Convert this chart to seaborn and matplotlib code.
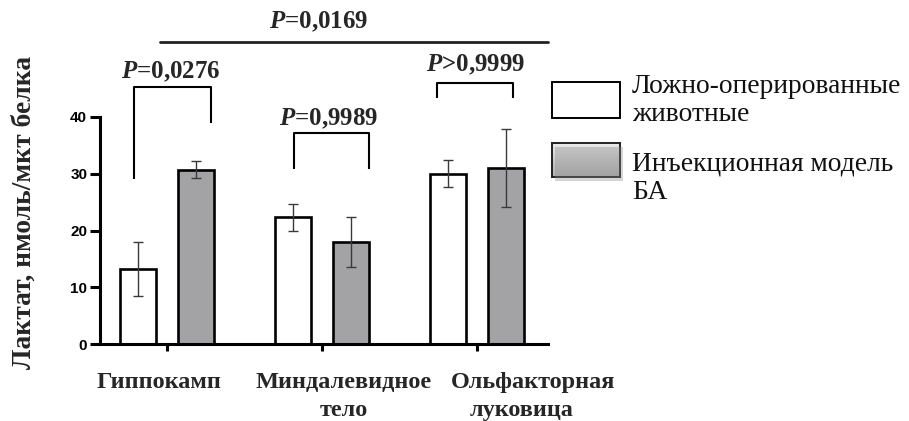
import numpy as np
import pandas as pd
import matplotlib
matplotlib.use("Agg")
import matplotlib.pyplot as plt
from matplotlib.patches import Rectangle
import seaborn as sns

# ---- data -------------------------------------------------------------
regions = ["Гиппокамп", "Миндалевидное\nтело", "Ольфакторная\nлуковица"]
groups = ["Ложно-оперированные\nживотные", "Инъекционная модель\nБА"]
sham_mean = [13.2, 22.3, 30.0]
sham_sd = [4.8, 2.4, 2.4]
model_mean = [30.7, 18.0, 31.0]
model_sd = [1.5, 4.4, 6.8]
y_ticks = [0, 10, 20, 30, 40]
y_label = "Лактат, нмоль/мкт белка"
p_pairs = ["=0,0276", "=0,9989", ">0,9999"]
p_overall = "=0,0169"

df = pd.DataFrame({
    "region": regions * 2,
    "group": [groups[0]] * 3 + [groups[1]] * 3,
    "value": sham_mean + model_mean,
})

# ---- style ------------------------------------------------------------
sns.set_style("ticks")
plt.rcParams["font.family"] = ["Liberation Serif", "DejaVu Serif"]
plt.rcParams["mathtext.fontset"] = "custom"
plt.rcParams["mathtext.it"] = "Liberation Serif:italic:bold"
plt.rcParams["mathtext.rm"] = "Liberation Serif:bold"

W, H = 909, 421
fig = plt.figure(figsize=(W / 100, H / 100), dpi=100)
fig.patch.set_facecolor("white")


def fx(px):
    return px / W


def fy(py):
    return 1 - py / H


ax = fig.add_axes([fx(100), fy(344), 448 / W, 227 / H])

palette = {groups[0]: "white", groups[1]: "#a3a2a7"}
sns.barplot(data=df, x="region", y="value", hue="group", hue_order=groups,
            order=regions, palette=palette, width=0.75, gap=0.37,
            edgecolor="black", linewidth=1.9, errorbar=None, legend=False,
            ax=ax, zorder=2)

# error bars (mean ± SD) on top of every bar
for cont, sds in zip(ax.containers, [sham_sd, model_sd]):
    xs = [p.get_x() + p.get_width() / 2 for p in cont.patches]
    hs = [p.get_height() for p in cont.patches]
    ax.errorbar(xs, hs, yerr=sds, fmt="none", ecolor="#3a3a3a",
                elinewidth=1.0, capsize=3.4, capthick=1.0, zorder=3)

ax.set_xlim(-0.432, 2.458)
ax.set_ylim(0, 40)
sns.despine(ax=ax)
for s in ["left", "bottom"]:
    ax.spines[s].set_linewidth(2.2)
    ax.spines[s].set_color("black")
ax.set_facecolor("white")
ax.grid(False)

ax.set_yticks(y_ticks)
ax.set_yticklabels([str(t) for t in y_ticks], family="Liberation Sans",
                   fontweight="bold", fontsize=11)
ax.tick_params(axis="y", length=7.2, width=2.2, pad=2, colors="black")
ax.set_xticks(range(len(regions)))
ax.set_xticklabels([""] * len(regions))
ax.tick_params(axis="x", length=5, width=2.2, colors="black")
ax.set_xlabel("")
ax.set_ylabel(y_label, fontsize=19.8, fontweight="bold")
ax.yaxis.set_label_coords(-0.141, 0.581)

# category labels, one text per line
tr = ax.get_xaxis_transform()
line_x = [[-0.05], [1.14, 1.14], [2.36, 2.29]]
line_y = [-0.192, -0.315]
for name, xs in zip(regions, line_x):
    for line, x, y in zip(name.split("\n"), xs, line_y):
        ax.text(x, y, line, transform=tr, ha="center", va="baseline",
                fontsize=17.5, fontweight="bold", clip_on=False)

# comparison brackets
lk = dict(color="black", lw=1.5, clip_on=False, solid_capstyle="butt")
brackets = [(-0.211, 0.282, 45.2, 29.1, 39.0),
            (0.819, 1.306, 37.1, 30.8, 30.8),
            (1.741, 2.234, 46.0, 43.3, 43.3)]
for (x0, x1, top, b0, b1) in brackets:
    ax.plot([x0, x0, x1, x1], [b0, top, top, b1], **lk)

p_pos = [(0.026, 46.8), (1.046, 38.5), (1.99, 48.1)]
for txt, (x, y) in zip(p_pairs, p_pos):
    ax.text(x, y, "$P$" + txt, ha="center", va="baseline", fontsize=18,
            fontweight="bold", clip_on=False)

ax.plot([-0.042, 2.458], [53.3, 53.3], color="#222222", lw=2.0,
        clip_on=False)
ax.text(0.977, 55.6, "$P$" + p_overall, ha="center", va="baseline",
        fontsize=18, fontweight="bold", clip_on=False)

# legend drawn beside the axes
bx0, bx1 = 552, 620
box1 = (82, 118)
box2 = (143, 177)
fig.patches.append(Rectangle((fx(bx0), fy(box1[1])), (bx1 - bx0) / W,
                             (box1[1] - box1[0]) / H, transform=fig.transFigure,
                             facecolor="white", edgecolor="black", lw=1.4))
# soft shadow under the grey key
fig.patches.append(Rectangle((fx(bx0 + 3), fy(box2[1] + 4)), (bx1 - bx0) / W,
                             (box2[1] - box2[0]) / H, transform=fig.transFigure,
                             facecolor="#888888", edgecolor="none", alpha=0.35,
                             zorder=0))
gax = fig.add_axes([fx(bx0), fy(box2[1]), (bx1 - bx0) / W,
                    (box2[1] - box2[0]) / H])
grad = np.linspace(0, 1, 64).reshape(-1, 1)
gax.imshow(grad, aspect="auto", cmap=matplotlib.colors.LinearSegmentedColormap
           .from_list("key", ["#ececec", "#b0b0b0"]), extent=(0, 1, 0, 1),
           origin="upper")
gax.set_xticks([])
gax.set_yticks([])
for s in gax.spines.values():
    s.set_linewidth(1.4)
    s.set_color("#222222")

lg_x = 632
lg_base = [[93, 121], [170, 199]]
for g, bases in zip(groups, lg_base):
    for line, b in zip(g.split("\n"), bases):
        fig.text(fx(lg_x), fy(b), line, ha="left", va="baseline",
                 fontsize=19.8, color="#111111")

fig.savefig("out.png", dpi=100, facecolor="white")
